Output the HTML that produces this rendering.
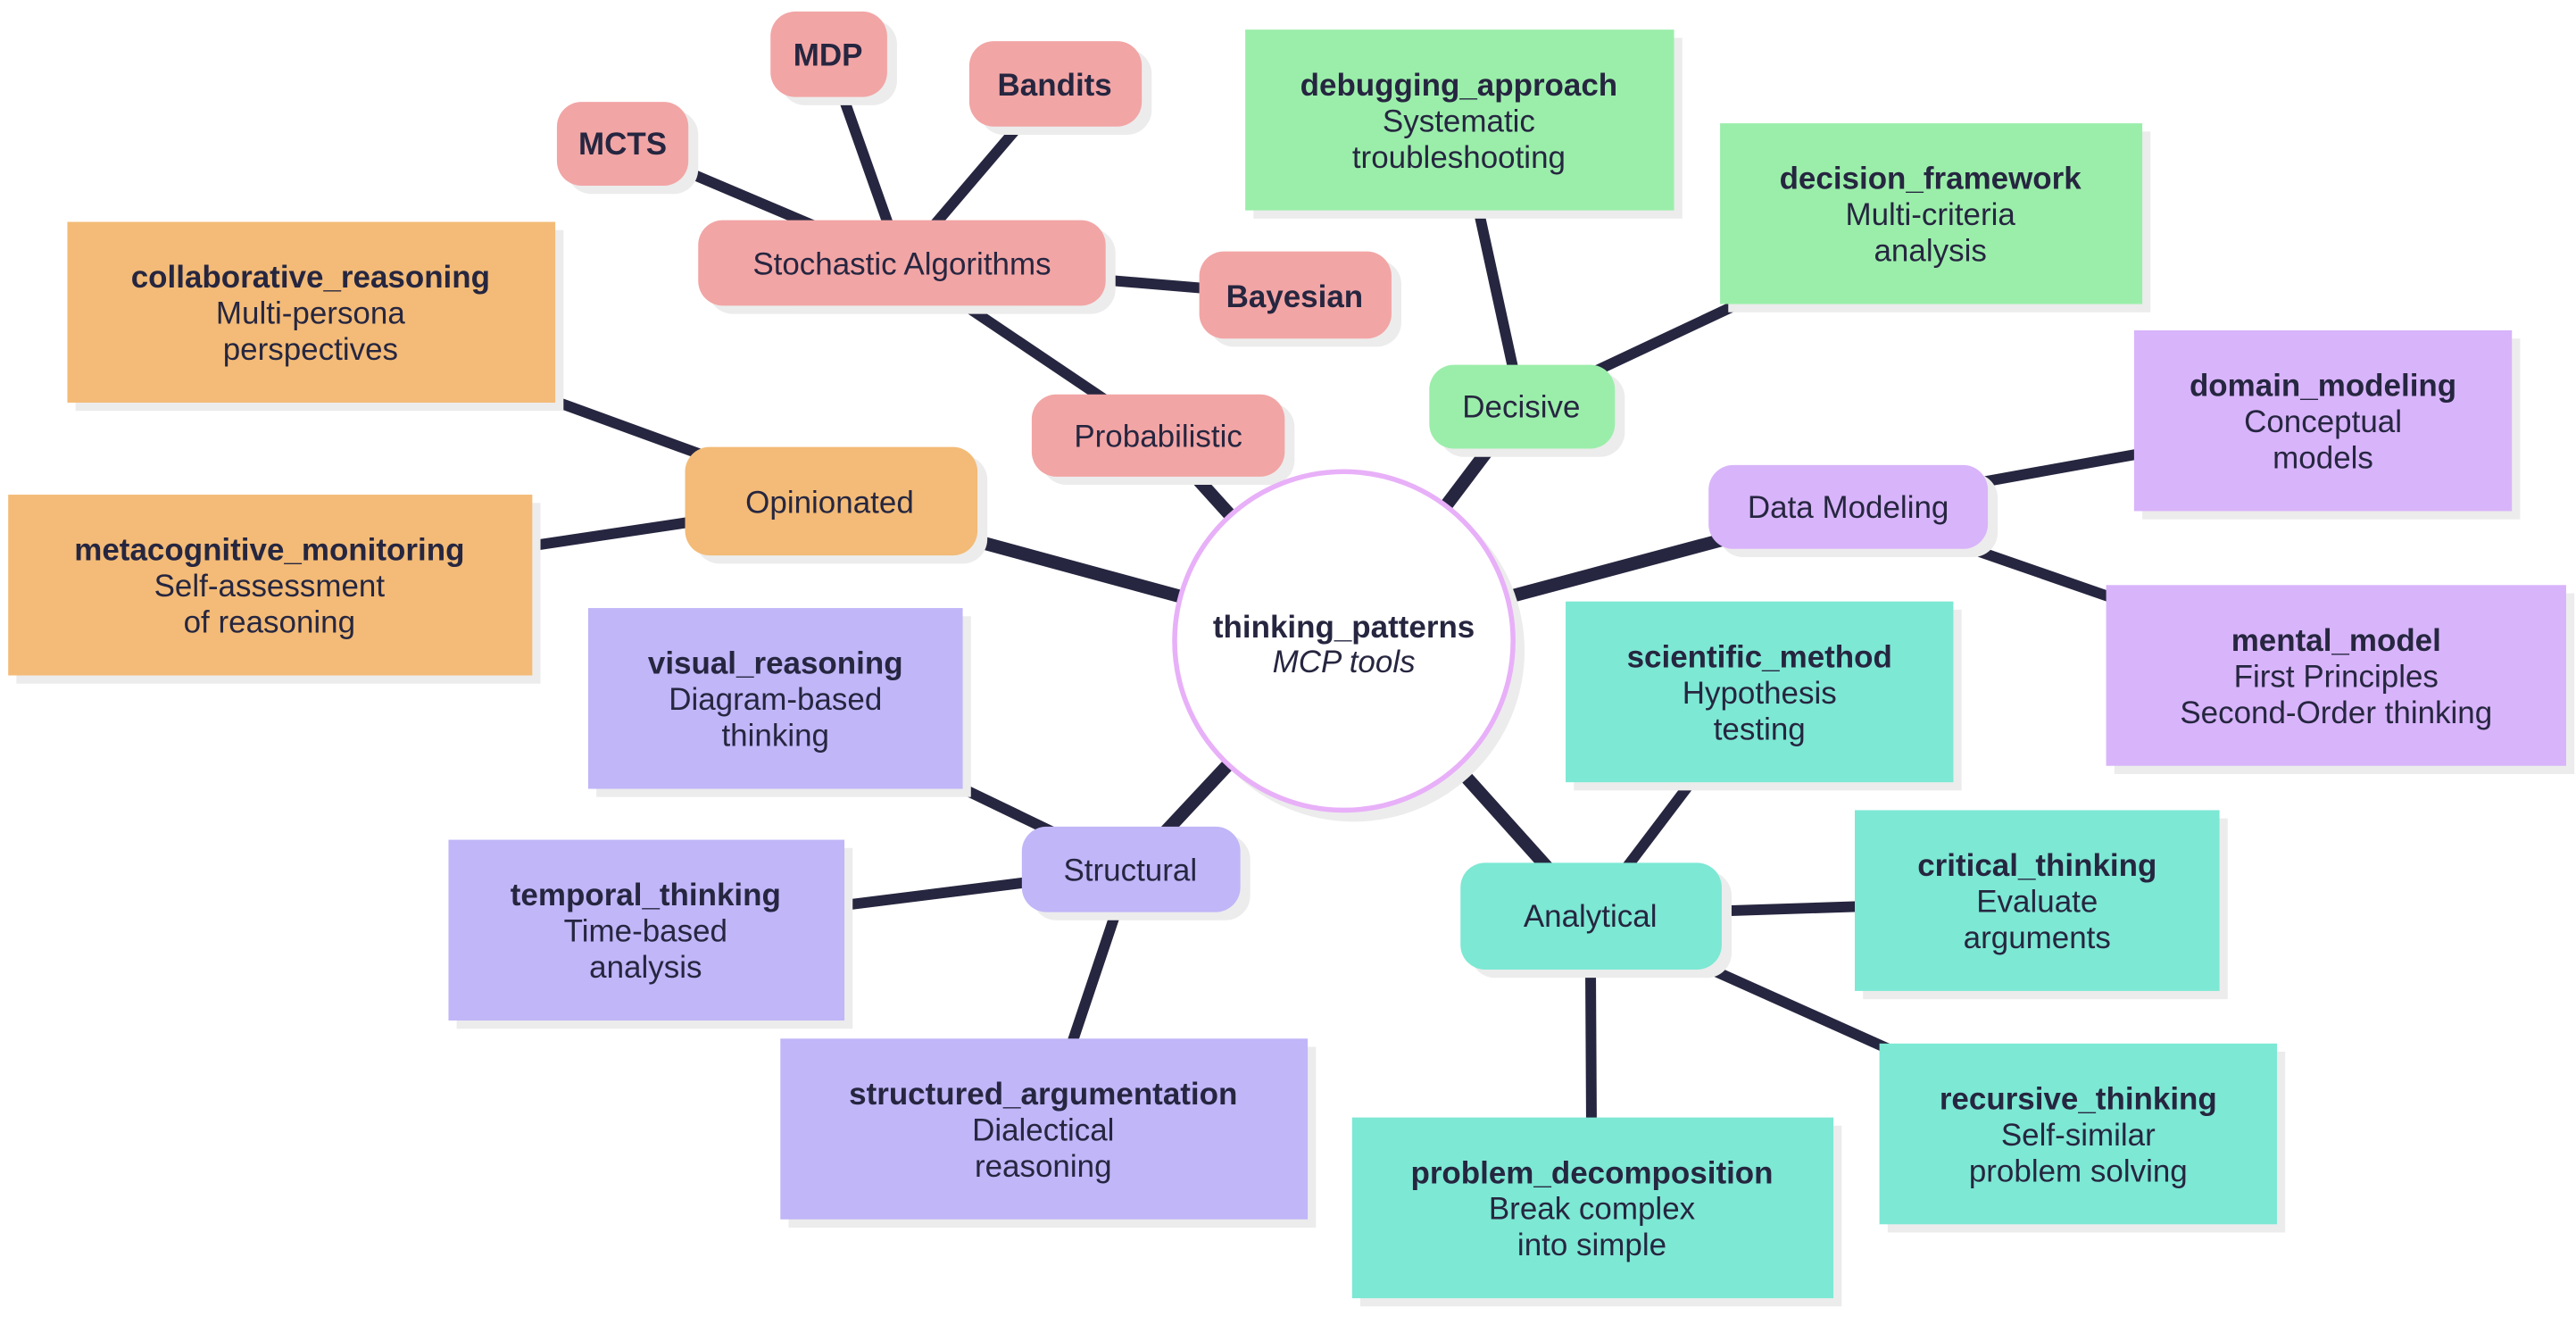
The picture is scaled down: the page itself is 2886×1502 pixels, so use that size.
<!DOCTYPE html>
<html><head><meta charset="utf-8"><style>
html,body{margin:0;padding:0;background:#fff}
svg{display:block}
text{font-family:"Liberation Sans",sans-serif;fill:#262640;text-anchor:middle;font-size:19px}
.b{font-weight:bold}
</style></head><body>
<svg width="2886" height="1502" viewBox="0 0 1568 816" xmlns="http://www.w3.org/2000/svg">
<g stroke="#262640" stroke-linecap="butt">
<g stroke-width="8">
<line x1="818" y1="390" x2="505" y2="305"/>
<line x1="818" y1="390" x2="705" y2="265"/>
<line x1="818" y1="390" x2="926" y2="247"/>
<line x1="818" y1="390" x2="1125" y2="308"/>
<line x1="818" y1="390" x2="968" y2="557"/>
<line x1="818" y1="390" x2="688" y2="529"/>
</g>
<g stroke-width="6.5">
<line x1="705" y1="265" x2="549" y2="160"/>
<line x1="549" y1="160" x2="379" y2="88"/>
<line x1="549" y1="160" x2="504" y2="33"/>
<line x1="549" y1="160" x2="642" y2="51"/>
<line x1="549" y1="160" x2="788" y2="180"/>
<line x1="926" y1="247" x2="888" y2="73"/>
<line x1="926" y1="247" x2="1175" y2="130"/>
<line x1="1125" y1="308" x2="1414" y2="256"/>
<line x1="1125" y1="308" x2="1422" y2="411"/>
<line x1="968" y1="557" x2="1071" y2="421"/>
<line x1="968" y1="557" x2="1240" y2="548"/>
<line x1="968" y1="557" x2="1265" y2="690"/>
<line x1="968" y1="557" x2="969" y2="735"/>
<line x1="688" y1="529" x2="472" y2="425"/>
<line x1="688" y1="529" x2="393" y2="566"/>
<line x1="688" y1="529" x2="635" y2="687"/>
<line x1="505" y1="305" x2="189" y2="190"/>
<line x1="505" y1="305" x2="164" y2="356"/>
</g>
</g>
<!-- shadows -->
<g fill="#ececec">
<circle cx="824" cy="396" r="104"/>
<rect x="634" y="245" width="154" height="50" rx="15"/>
<rect x="431" y="139" width="248" height="52" rx="15"/>
<rect x="345" y="67" width="80" height="51" rx="15"/>
<rect x="475" y="12" width="71" height="52" rx="15"/>
<rect x="596" y="30" width="105" height="52" rx="15"/>
<rect x="736" y="158" width="117" height="53" rx="15"/>
<rect x="876" y="227" width="113" height="51" rx="15"/>
<rect x="1046" y="288" width="170" height="51" rx="15"/>
<rect x="895" y="530" width="159" height="65" rx="15"/>
<rect x="628" y="508" width="133" height="52" rx="15"/>
<rect x="423" y="277" width="178" height="66" rx="15"/>
<rect x="763" y="23" width="261" height="110"/>
<rect x="1052" y="80" width="257" height="110"/>
<rect x="1304" y="206" width="230" height="110"/>
<rect x="1287" y="361" width="280" height="110"/>
<rect x="958" y="371" width="236" height="110"/>
<rect x="1134" y="498" width="222" height="110"/>
<rect x="1149" y="640" width="242" height="110"/>
<rect x="828" y="685" width="293" height="110"/>
<rect x="363" y="375" width="228" height="110"/>
<rect x="278" y="516" width="241" height="110"/>
<rect x="480" y="637" width="321" height="110"/>
<rect x="46" y="140" width="297" height="110"/>
<rect x="10" y="306" width="319" height="110"/>
</g>
<!-- center -->
<circle cx="818" cy="390" r="103" fill="#fff" stroke="#e8b0f8" stroke-width="3"/>
<text x="818" y="388" class="b">thinking_patterns</text>
<text x="818" y="409" font-style="italic">MCP tools</text>
<!-- probabilistic group -->
<g fill="#f2a5a5">
<rect x="628" y="240" width="154" height="50" rx="15"/>
<rect x="425" y="134" width="248" height="52" rx="15"/>
<rect x="339" y="62" width="80" height="51" rx="15"/>
<rect x="469" y="7" width="71" height="52" rx="15"/>
<rect x="590" y="25" width="105" height="52" rx="15"/>
<rect x="730" y="153" width="117" height="53" rx="15"/>
</g>
<text x="705" y="272">Probabilistic</text>
<text x="549" y="167">Stochastic Algorithms</text>
<text x="379" y="94" class="b">MCTS</text>
<text x="504" y="40" class="b">MDP</text>
<text x="642" y="58" class="b">Bandits</text>
<text x="788" y="187" class="b">Bayesian</text>
<!-- decisive -->
<g fill="#9beeaa">
<rect x="870" y="222" width="113" height="51" rx="15"/>
<rect x="758" y="18" width="261" height="110"/>
<rect x="1047" y="75" width="257" height="110"/>
</g>
<text x="926" y="254">Decisive</text>
<text x="888" y="58" class="b">debugging_approach</text>
<text x="888" y="80">Systematic</text>
<text x="888" y="102">troubleshooting</text>
<text x="1175" y="115" class="b">decision_framework</text>
<text x="1175" y="137">Multi-criteria</text>
<text x="1175" y="159">analysis</text>
<!-- data modeling -->
<g fill="#d8b4fa">
<rect x="1040" y="283" width="170" height="51" rx="15"/>
<rect x="1299" y="201" width="230" height="110"/>
<rect x="1282" y="356" width="280" height="110"/>
</g>
<text x="1125" y="315">Data Modeling</text>
<text x="1414" y="241" class="b">domain_modeling</text>
<text x="1414" y="263">Conceptual</text>
<text x="1414" y="285">models</text>
<text x="1422" y="396" class="b">mental_model</text>
<text x="1422" y="418">First Principles</text>
<text x="1422" y="440">Second-Order thinking</text>
<!-- analytical -->
<g fill="#7de8d4">
<rect x="889" y="525" width="159" height="65" rx="15"/>
<rect x="953" y="366" width="236" height="110"/>
<rect x="1129" y="493" width="222" height="110"/>
<rect x="1144" y="635" width="242" height="110"/>
<rect x="823" y="680" width="293" height="110"/>
</g>
<text x="968" y="564">Analytical</text>
<text x="1071" y="406" class="b">scientific_method</text>
<text x="1071" y="428">Hypothesis</text>
<text x="1071" y="450">testing</text>
<text x="1240" y="533" class="b">critical_thinking</text>
<text x="1240" y="555">Evaluate</text>
<text x="1240" y="577">arguments</text>
<text x="1265" y="675" class="b">recursive_thinking</text>
<text x="1265" y="697">Self-similar</text>
<text x="1265" y="719">problem solving</text>
<text x="969" y="720" class="b">problem_decomposition</text>
<text x="969" y="742">Break complex</text>
<text x="969" y="764">into simple</text>
<!-- structural -->
<g fill="#c0b6f8">
<rect x="622" y="503" width="133" height="52" rx="15"/>
<rect x="358" y="370" width="228" height="110"/>
<rect x="273" y="511" width="241" height="110"/>
<rect x="475" y="632" width="321" height="110"/>
</g>
<text x="688" y="536">Structural</text>
<text x="472" y="410" class="b">visual_reasoning</text>
<text x="472" y="432">Diagram-based</text>
<text x="472" y="454">thinking</text>
<text x="393" y="551" class="b">temporal_thinking</text>
<text x="393" y="573">Time-based</text>
<text x="393" y="595">analysis</text>
<text x="635" y="672" class="b">structured_argumentation</text>
<text x="635" y="694">Dialectical</text>
<text x="635" y="716">reasoning</text>
<!-- opinionated -->
<g fill="#f3bb77">
<rect x="417" y="272" width="178" height="66" rx="15"/>
<rect x="41" y="135" width="297" height="110"/>
<rect x="5" y="301" width="319" height="110"/>
</g>
<text x="505" y="312">Opinionated</text>
<text x="189" y="175" class="b">collaborative_reasoning</text>
<text x="189" y="197">Multi-persona</text>
<text x="189" y="219">perspectives</text>
<text x="164" y="341" class="b">metacognitive_monitoring</text>
<text x="164" y="363">Self-assessment</text>
<text x="164" y="385">of reasoning</text>
</svg>
</body></html>
